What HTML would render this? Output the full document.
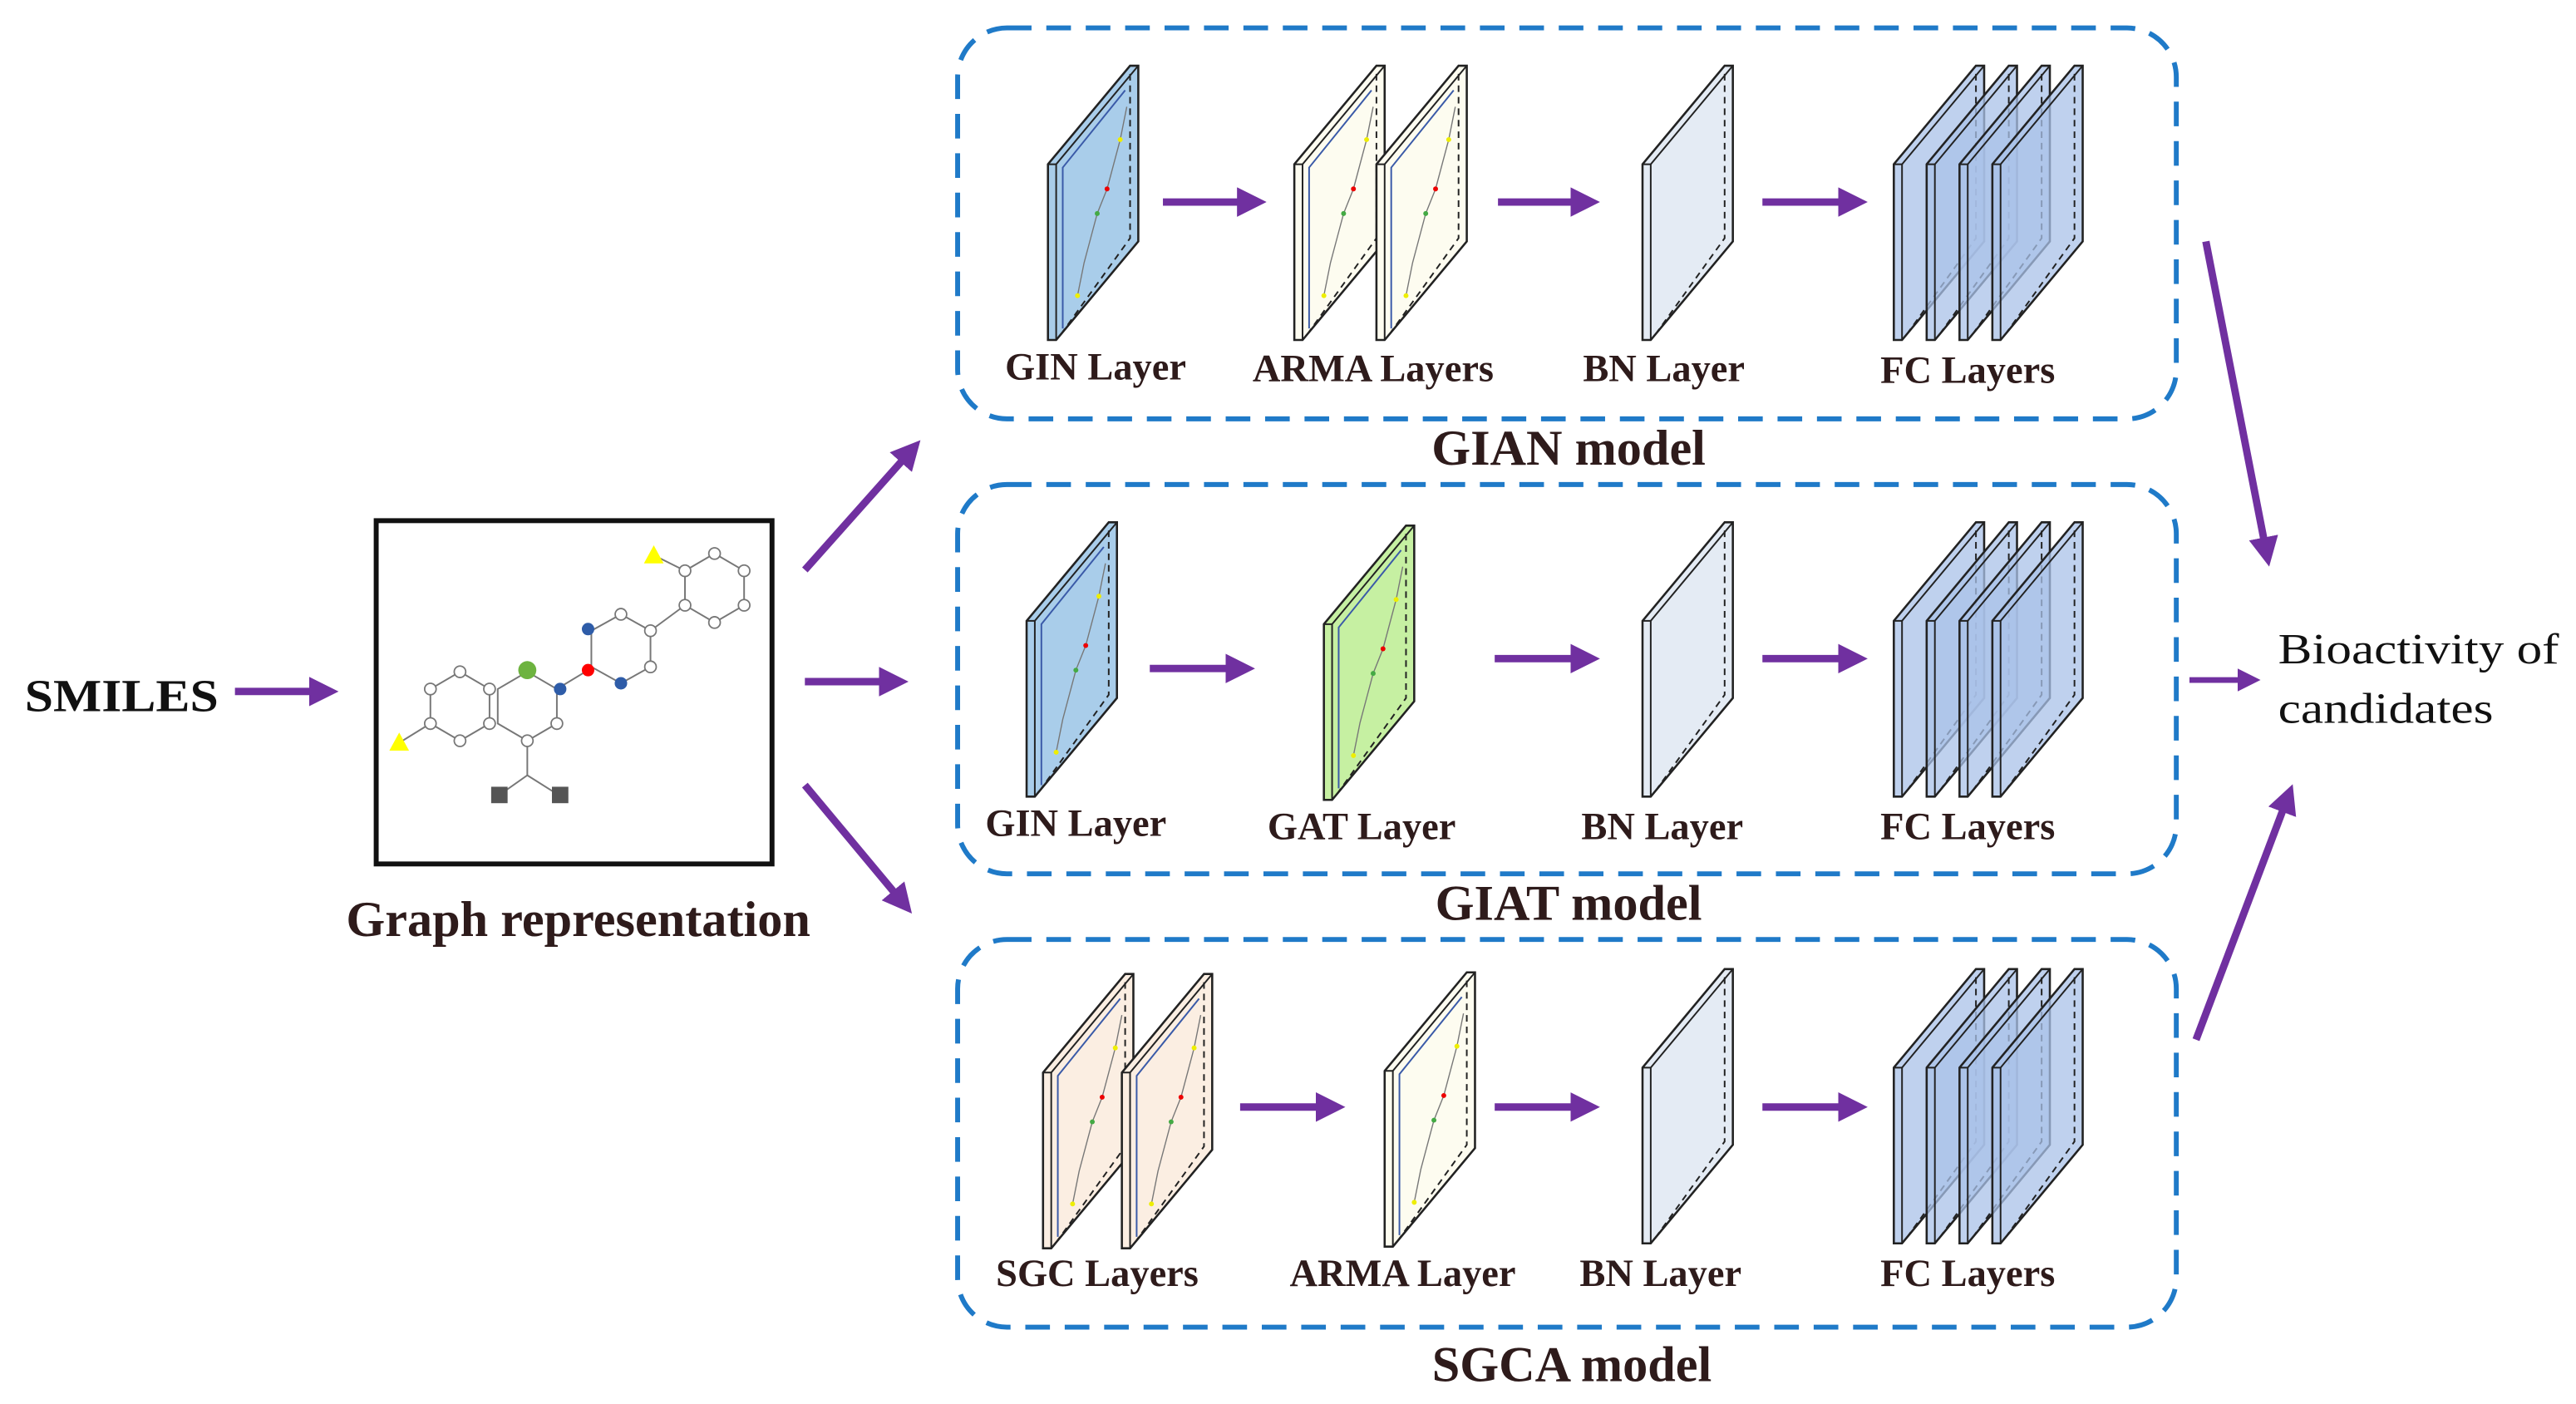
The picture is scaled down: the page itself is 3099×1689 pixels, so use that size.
<!DOCTYPE html>
<html><head><meta charset="utf-8"><style>
html,body{margin:0;padding:0;background:#fff;}
svg{display:block;}
text{font-family:"Liberation Serif",serif;}
.lb{font-weight:bold;fill:#2e1b1b;font-size:23.5px;}
.md{font-weight:bold;fill:#2e1b1b;font-size:30.5px;}
</style></head><body>
<svg width="3099" height="1689" viewBox="0 0 1568.3 854.8" xmlns="http://www.w3.org/2000/svg">
<defs>
<marker id="ah" markerWidth="4" markerHeight="4" refX="2.2" refY="2" orient="auto" markerUnits="strokeWidth">
<path d="M0,0 L4,2 L0,4 Z" fill="#7030a0"/></marker>
<g id="pl">
<polygon points="0,60 50,0 55,0 55,107 5,167 0,167" stroke="#222" stroke-width="1.3"/>
<polyline points="0,60 5,60 5,167" fill="none" stroke="#222" stroke-width="1"/>
<line x1="5" y1="60" x2="55" y2="0" stroke="#222" stroke-width="1"/>
<polyline points="50,5 50,105 9,162" fill="none" stroke="#222" stroke-width="1" stroke-dasharray="4,3"/>
</g>
<g id="gp">
<use href="#pl"/>
<polyline points="9,160 9,62 47,15" fill="none" stroke="#3a5aa8" stroke-width="1"/>
<polyline points="48,25 44,45 40,60 36,75 30,90 26,105 22,120 18,140" fill="none" stroke="#777" stroke-width="0.7"/>
<circle cx="44" cy="45" r="1.5" fill="#ee0"/><circle cx="36" cy="75" r="1.5" fill="#e00"/><circle cx="30" cy="90" r="1.5" fill="#4a4"/><circle cx="18" cy="140" r="1.5" fill="#ee0"/>
</g>
</defs>

<g fill="none" stroke="#1f7ac8" stroke-width="3" stroke-dasharray="15,9">
<rect x="583" y="17" width="742" height="238" rx="30"/>
<rect x="583" y="295" width="742" height="237" rx="30"/>
<rect x="583" y="572" width="742" height="236" rx="30"/>
</g>

<g stroke="#7030a0" stroke-width="4.5" fill="none" marker-end="url(#ah)">
<line x1="143" y1="421" x2="198" y2="421"/>
<line x1="490" y1="347" x2="555" y2="274"/>
<line x1="490" y1="415" x2="545" y2="415"/>
<line x1="490" y1="478" x2="550" y2="550"/>
<line x1="708" y1="123" x2="763" y2="123"/>
<line x1="912" y1="123" x2="966" y2="123"/>
<line x1="1073" y1="123" x2="1129" y2="123"/>
<line x1="700" y1="407" x2="756" y2="407"/>
<line x1="910" y1="401" x2="966" y2="401"/>
<line x1="1073" y1="401" x2="1129" y2="401"/>
<line x1="755" y1="674" x2="811" y2="674"/>
<line x1="910" y1="674" x2="966" y2="674"/>
<line x1="1073" y1="674" x2="1129" y2="674"/>
<line x1="1343" y1="147" x2="1380" y2="337"/>
<line x1="1333" y1="414" x2="1370" y2="414" stroke-width="3.5"/>
<line x1="1337" y1="633" x2="1393" y2="485"/>
</g>

<use href="#gp" x="638" y="40" fill="#a9cdea"/>
<use href="#gp" x="788" y="40" fill="#fdfcf0"/>
<use href="#gp" x="838" y="40" fill="#fdfcf0"/>
<use href="#pl" x="1000" y="40" fill="#e4ebf4"/>
<g fill="#a9c2e8" fill-opacity="0.75">
<use href="#pl" x="1153" y="40"/><use href="#pl" x="1173" y="40"/><use href="#pl" x="1193" y="40"/><use href="#pl" x="1213" y="40"/>
</g>
<use href="#gp" x="625" y="318" fill="#a9cdea"/>
<use href="#gp" x="806" y="320" fill="#c6f0a2"/>
<use href="#pl" x="1000" y="318" fill="#e4ebf4"/>
<g fill="#a9c2e8" fill-opacity="0.75">
<use href="#pl" x="1153" y="318"/><use href="#pl" x="1173" y="318"/><use href="#pl" x="1193" y="318"/><use href="#pl" x="1213" y="318"/>
</g>
<use href="#gp" x="635" y="593" fill="#fbeee2"/>
<use href="#gp" x="683" y="593" fill="#fbeee2"/>
<use href="#gp" x="843" y="592" fill="#fdfcf0"/>
<use href="#pl" x="1000" y="590" fill="#e4ebf4"/>
<g fill="#a9c2e8" fill-opacity="0.75">
<use href="#pl" x="1153" y="590"/><use href="#pl" x="1173" y="590"/><use href="#pl" x="1193" y="590"/><use href="#pl" x="1213" y="590"/>
</g>

<g class="lb" text-anchor="middle">
<text x="667" y="231">GIN Layer</text><text x="836" y="232">ARMA Layers</text><text x="1013" y="232">BN Layer</text><text x="1198" y="233">FC Layers</text>
<text x="655" y="509">GIN Layer</text><text x="829" y="511">GAT Layer</text><text x="1012" y="511">BN Layer</text><text x="1198" y="511">FC Layers</text>
<text x="668" y="783">SGC Layers</text><text x="854" y="783">ARMA Layer</text><text x="1011" y="783">BN Layer</text><text x="1198" y="783">FC Layers</text>
</g>
<g class="md" text-anchor="middle">
<text x="955" y="283">GIAN model</text>
<text x="955" y="560">GIAT model</text>
<text x="957" y="841">SGCA model</text>
<text x="352" y="570">Graph representation</text>
</g>
<text x="15" y="433" font-weight="bold" font-size="28" fill="#111" textLength="118" lengthAdjust="spacingAndGlyphs">SMILES</text>
<text x="1387" y="404" font-size="26" fill="#111" textLength="171" lengthAdjust="spacingAndGlyphs">Bioactivity of</text>
<text x="1387" y="440" font-size="26" fill="#111" textLength="131" lengthAdjust="spacingAndGlyphs">candidates</text>

<rect x="229" y="317" width="241" height="209" fill="#fff" stroke="#111" stroke-width="3"/>
<g stroke="#777" stroke-width="1" fill="none">
<polygon points="280,409 298,419.5 298,440.5 280,451 262,440.5 262,419.5"/>
<polygon points="321,409 339,419.5 339,440.5 321,451 303,440.5 303,419.5"/>
<polygon points="378,374 396,384 396,406 378,416 360,406 360,384"/>
<polygon points="435,337 453,347.5 453,368.5 435,379 417,368.5 417,347.5"/>
<line x1="339" y1="419.5" x2="358" y2="408"/>
<line x1="396" y1="384" x2="417" y2="368.5"/>
<line x1="262" y1="440.5" x2="245" y2="451"/>
<line x1="417" y1="347.5" x2="400" y2="339"/>
<polyline points="321,451 321,472 304,484"/><line x1="321" y1="472" x2="340" y2="484"/>
</g>
<g fill="#fff" stroke="#777" stroke-width="0.9">
<circle cx="280" cy="409" r="3.5"/><circle cx="298" cy="419.5" r="3.5"/><circle cx="298" cy="440.5" r="3.5"/><circle cx="280" cy="451" r="3.5"/><circle cx="262" cy="440.5" r="3.5"/><circle cx="262" cy="419.5" r="3.5"/>
<circle cx="339" cy="440.5" r="3.5"/><circle cx="321" cy="451" r="3.5"/>
<circle cx="378" cy="374" r="3.5"/><circle cx="396" cy="384" r="3.5"/><circle cx="396" cy="406" r="3.5"/>
<circle cx="435" cy="337" r="3.5"/><circle cx="453" cy="347.5" r="3.5"/><circle cx="453" cy="368.5" r="3.5"/><circle cx="435" cy="379" r="3.5"/><circle cx="417" cy="368.5" r="3.5"/><circle cx="417" cy="347.5" r="3.5"/>
</g>
<circle cx="321" cy="408" r="5.5" fill="#6db33f"/>
<circle cx="341" cy="419.5" r="3.8" fill="#2e5ca8"/>
<circle cx="358" cy="408" r="3.8" fill="#f00"/>
<circle cx="358" cy="383" r="3.8" fill="#2e5ca8"/>
<circle cx="378" cy="416" r="3.8" fill="#2e5ca8"/>
<polygon points="398,332 392,343 404,343" fill="#ff0"/>
<polygon points="243,446 237,457 249,457" fill="#ff0"/>
<rect x="299" y="479" width="10" height="10" fill="#555"/>
<rect x="336" y="479" width="10" height="10" fill="#555"/>
</svg>
</body></html>
